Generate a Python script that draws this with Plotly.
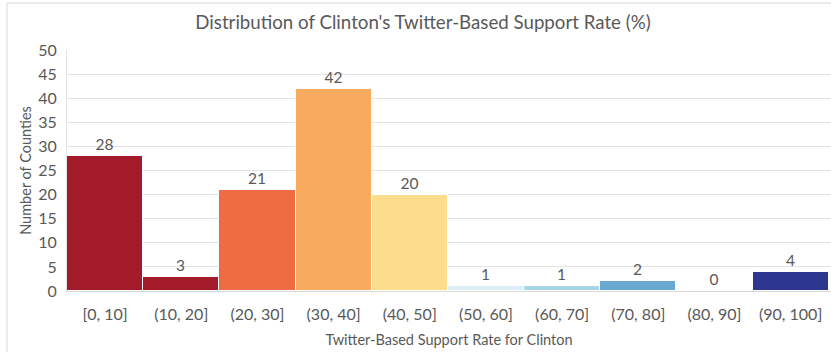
import plotly.graph_objects as go

categories = ["[0, 10]", "(10, 20]", "(20, 30]", "(30, 40]", "(40, 50]",
              "(50, 60]", "(60, 70]", "(70, 80]", "(80, 90]", "(90, 100]"]
counts = [28, 3, 21, 42, 20, 1, 1, 2, 0, 4]
colors = ["#A31A2A", "#A31A2A", "#EF6B41", "#F8AA5E", "#FCDC8D",
          "#DCEFF6", "#A8D5E6", "#6BA8D1", "#FFFFFF", "#2D3790"]

gray = "#595959"
font_family = "Lato, Open Sans, sans-serif"

fig = go.Figure()
fig.add_trace(go.Bar(
    x=list(range(len(categories))),
    y=counts,
    marker=dict(color=colors, line=dict(color="white", width=1)),
    text=[str(c) for c in counts],
    textposition="outside",
    textfont=dict(color=gray, size=15.5, family=font_family),
    cliponaxis=False,
    hoverinfo="skip",
))

L, R, T, B = 67, 0, 50, 61
W, H = 831, 352
pw = W - L - R
ph = H - T - B

def px(xp):
    return (xp - L) / pw

def py(yp):
    return (H - B - yp) / ph

fig.update_layout(
    width=W, height=H,
    margin=dict(l=L, r=R, t=T, b=B, pad=0),
    plot_bgcolor="white", paper_bgcolor="white",
    bargap=0,
    showlegend=False,
    font=dict(family=font_family, color=gray),
    title=dict(text="Distribution of Clinton's Twitter-Based Support Rate (%)",
               x=423 / W, xanchor="center", y=1 - 22 / H, yanchor="middle",
               font=dict(size=18.7, color=gray, family=font_family)),
    xaxis=dict(
        tickmode="array", tickvals=list(range(len(categories))), ticktext=categories,
        range=[-0.5, 9.53], showgrid=False, zeroline=False,
        showline=True, linecolor="#D9D9D9", linewidth=1,
        ticks="", tickfont=dict(size=16, color=gray), ticklabelstandoff=9,
        title=dict(text="Twitter-Based Support Rate for Clinton",
                   font=dict(size=14.5, color=gray), standoff=12),
    ),
    yaxis=dict(
        range=[0, 50], dtick=5, showgrid=True, gridcolor="#E3E3E3", gridwidth=1,
        zeroline=False, showline=True, linecolor="#E3E3E3", linewidth=1,
        ticks="", tickfont=dict(size=16, color=gray), ticklabelstandoff=6,
        title=dict(text="Number of Counties", font=dict(size=14.5, color=gray), standoff=3),
    ),
    shapes=[
        dict(type="line", xref="paper", yref="paper",
             x0=px(7), x1=px(7), y0=py(H + 5), y1=py(3),
             line=dict(color="#D9D9D9", width=1)),
        dict(type="line", xref="paper", yref="paper",
             x0=px(7), x1=px(W + 5), y0=py(3), y1=py(3),
             line=dict(color="#D9D9D9", width=1)),
    ],
)

fig.write_html("out.html")
